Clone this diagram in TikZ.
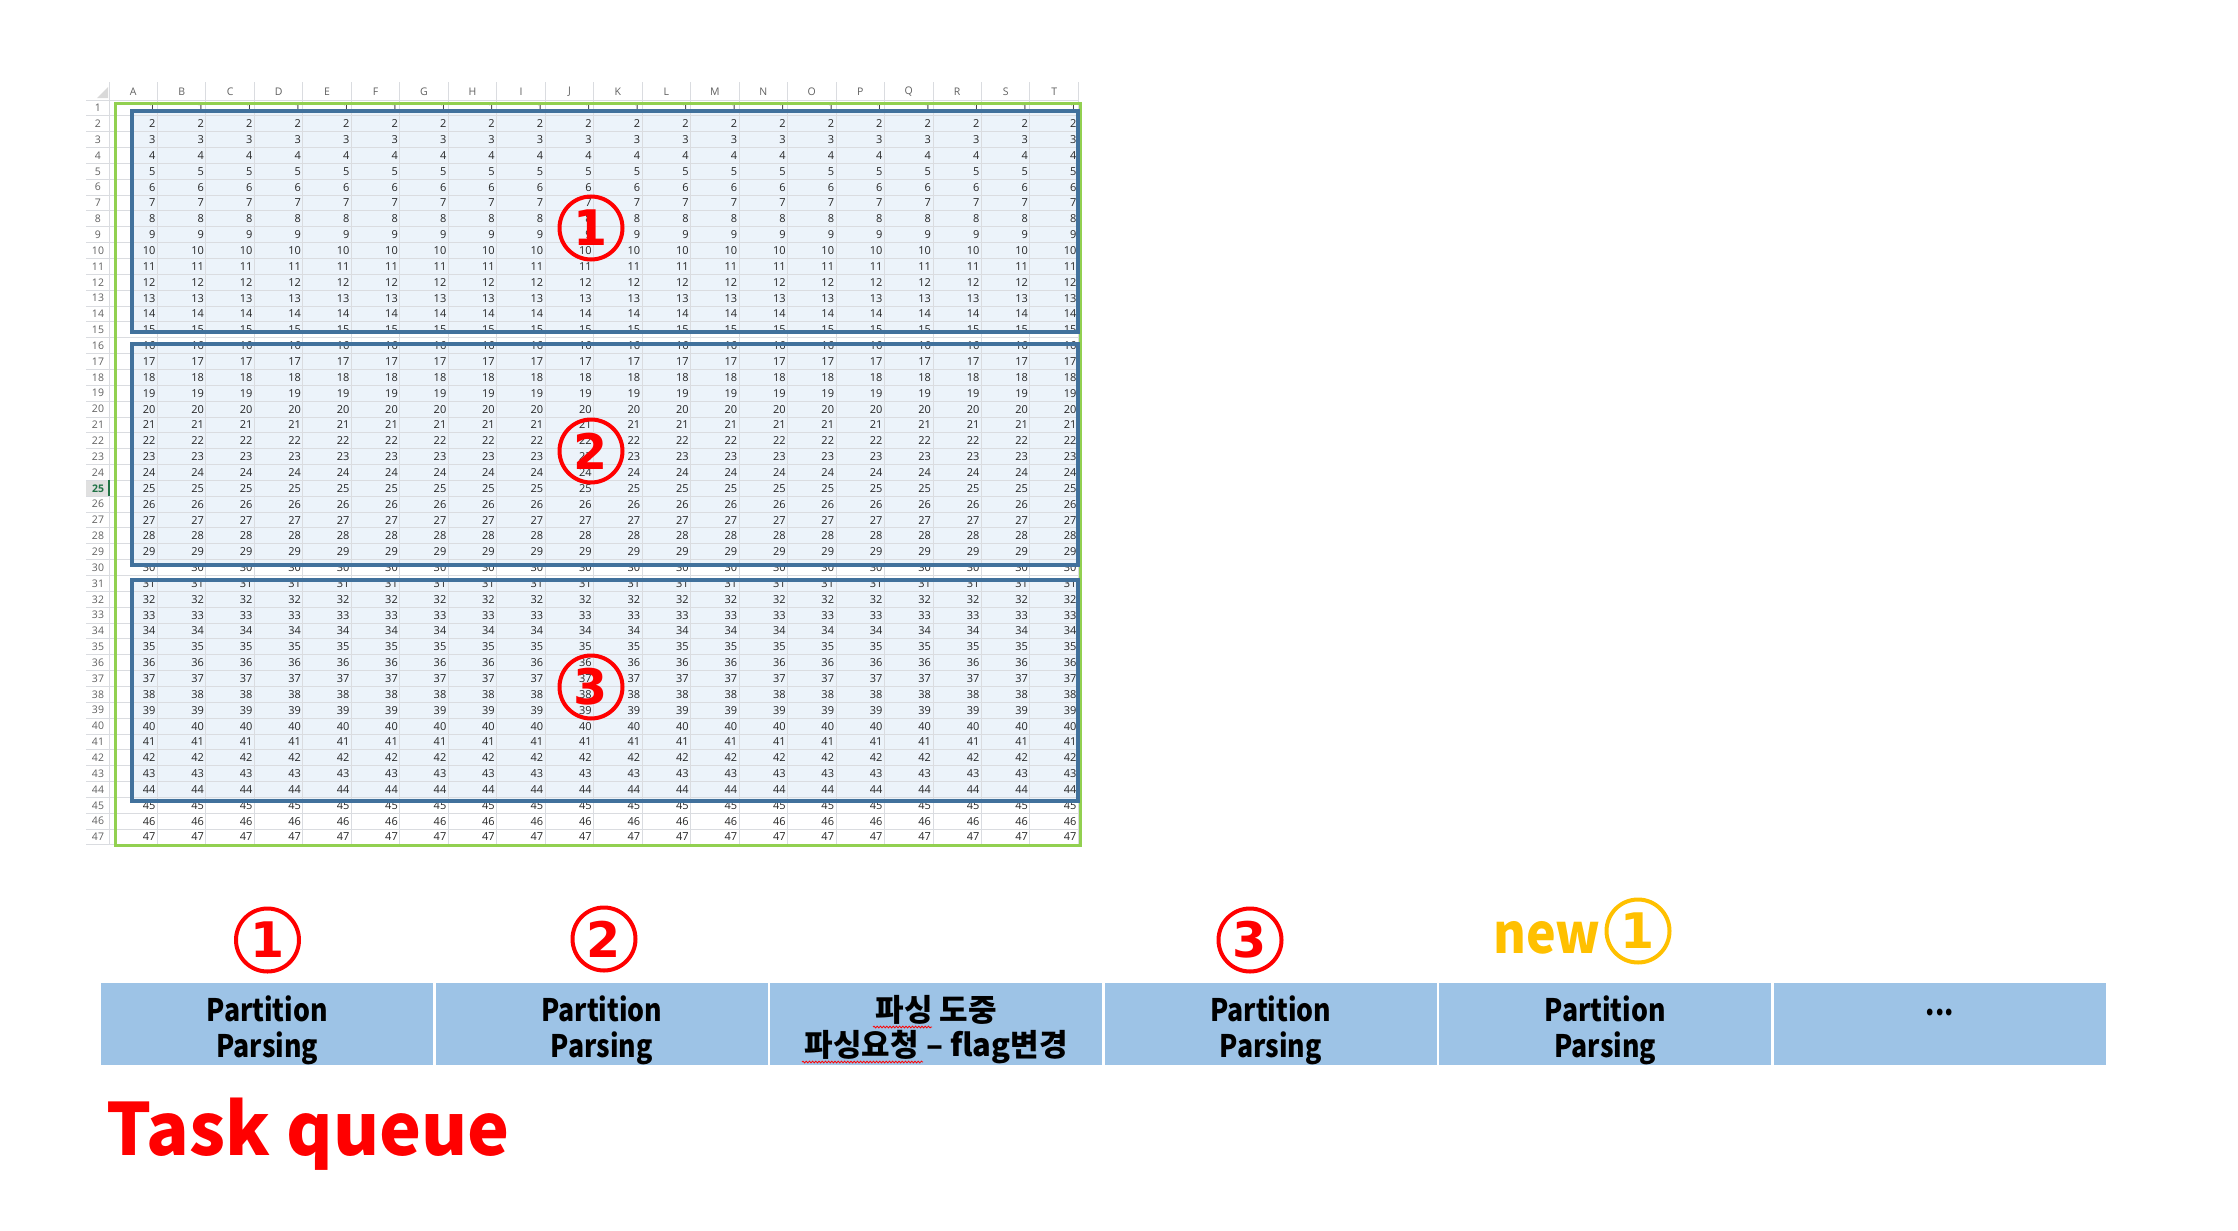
\documentclass[tikz,border=0pt]{standalone}
\usepackage{fontspec}
\setmainfont{Open Sans}
\newfontfamily\kofont{Noto Sans CJK KR}
\newfontfamily\boxlatin{Noto Sans CJK KR}[FakeStretch=0.86]
\newfontfamily\newlblfont{Noto Sans CJK KR}[FakeStretch=0.91]
\newfontfamily\titlefont{Noto Sans CJK KR}[FakeStretch=0.982]
\newfontfamily\digitfont{DejaVu Sans}
\usetikzlibrary{positioning,decorations.pathmorphing}
\definecolor{markred}{RGB}{255, 0, 0}
\definecolor{newyellow}{RGB}{255, 192, 0}
\definecolor{queueblue}{RGB}{157, 195, 230}
\definecolor{rangegreen}{RGB}{146, 208, 80}
\definecolor{rangeblue}{RGB}{65, 113, 156}
\definecolor{selfill}{RGB}{236, 243, 250}
\definecolor{xlgrid}{RGB}{218, 220, 224}
\definecolor{xlhead}{RGB}{96, 96, 96}
\definecolor{xlactive}{RGB}{33, 115, 70}
\definecolor{celltext}{RGB}{38, 38, 38}

\begin{document}
\begin{tikzpicture}[x=1pt, y=-1pt, line width=1pt,
    cellnum/.style={anchor=east, inner sep=0pt, text=celltext,
      font=\fontsize{11}{11}\selectfont},
    rowhead/.style={inner sep=0pt, text=xlhead,
      font=\fontsize{10.5}{10.5}\selectfont},
    colhead/.style={inner sep=0pt, text=xlhead,
      font=\fontsize{10.5}{10.5}\selectfont},
    selbox/.style={draw=rangeblue, line width=3.5pt},
    circnum/.style={circle, draw=markred, text=markred, line width=4pt,
      minimum size=63pt, inner sep=0pt,
      font=\digitfont\bfseries\fontsize{49}{49}\selectfont},
    queuebox/.style={rectangle, fill=queueblue, draw=white, line width=2.5pt,
      minimum width=334.5pt, minimum height=84pt, inner sep=0pt, outer sep=0pt},
    queuetext/.style={inner sep=0pt, align=center, yshift=-6pt,
      font=\boxlatin\bfseries\fontsize{31}{36}\selectfont},
    spellwave/.style={draw=markred, line width=0.8pt,
      decorate, decoration={snake, amplitude=0.9pt, segment length=3.2pt}}]
  \useasboundingbox (0,0) rectangle (2238,1231);

  % sheet
  \fill[selfill] (132,111) rectangle (1078,332);
  \fill[selfill] (132,344) rectangle (1078,565);
  \fill[selfill] (132,580) rectangle (1078,801);
  \fill[black!12] (86,480.4) rectangle (109,496.2);
  \fill[black!15] (97,98) -- (108,98) -- (108,87) -- cycle;

  \foreach \k in {0,...,47}
    \draw[xlgrid] (86,{100+\k*15.85}) -- (1078.4,{100+\k*15.85});
  \foreach \k in {0,...,20}
    \draw[xlgrid] ({109+\k*48.47},82) -- ({109+\k*48.47},845);
  \draw[xlactive, line width=2pt] (109,480.4) -- (109,496.2);

  \foreach \l [count=\c] in {A,...,T}
    \node[colhead] (h\l) at ({109+(\c-0.5)*48.47},92) {\l};
  \foreach \r in {1,...,24,26,27,...,47}
    \node[rowhead] (r\r) at (98,{100+(\r-0.5)*15.85}) {\r};
  \node[rowhead, text=xlactive, font=\bfseries\fontsize{10.5}{10.5}\selectfont]
    (r25) at (98,488.3) {25};

  \foreach \r in {1,...,47}
    \foreach \c in {1,...,20}
      \node[cellnum] (c\r-\c) at ({107.5+\c*48.47},{100+(\r-0.5)*15.85}) {\r};

  \draw[rangegreen, line width=3pt] (115,103) rectangle (1080.5,845);
  \draw[selbox] (132,111) rectangle (1078,332);
  \draw[selbox] (132,344) rectangle (1078,565);
  \draw[selbox] (132,580) rectangle (1078,801);

  \node[circnum] (s1) at (591,228) {1};
  \node[circnum] (s2) at (591,451) {2};
  \node[circnum] (s3) at (591,687) {3};

  % queue
  \node[queuebox] (q1) at (267.3,1024) {};
  \node[queuebox, right=0pt of q1] (q2) {};
  \node[queuebox, right=0pt of q2] (q3) {};
  \node[queuebox, right=0pt of q3] (q4) {};
  \node[queuebox, right=0pt of q4] (q5) {};
  \node[queuebox, right=0pt of q5] (q6) {};

  \node[queuetext] (t1) at (q1) {Partition\\Parsing};
  \node[queuetext] (t2) at (q2) {Partition\\Parsing};
  \node[queuetext, font=\kofont\bfseries\fontsize{31}{35}\selectfont]
    (t3) at (q3) {파싱 도중\\파싱요청 – flag변경};
  \node[queuetext] (t4) at (q4) {Partition\\Parsing};
  \node[queuetext] (t5) at (q5) {Partition\\Parsing};
  \node[queuetext] (t6) at (q6) {...\\\mbox{}};

  \draw[spellwave] (873,1027) -- (932,1027);
  \draw[spellwave] (802,1062) -- (923,1062);

  \node[circnum] (m1) at (267.5,940) {1};
  \node[circnum] (m2) at (604,939) {2};
  \node[circnum] (m3) at (1250,940) {3};
  \node[circnum, draw=newyellow, text=newyellow] (m4) at (1638,931) {1};
  \node[anchor=base east, inner sep=0pt, text=newyellow,
    font=\newlblfont\bfseries\fontsize{55}{55}\selectfont] (newlbl) at (1601,953) {new};

  \node[anchor=base west, inner sep=0pt, text=markred,
    font=\titlefont\bfseries\fontsize{72}{72}\selectfont] (title) at (106,1155) {Task queue};
\end{tikzpicture}
\end{document}
